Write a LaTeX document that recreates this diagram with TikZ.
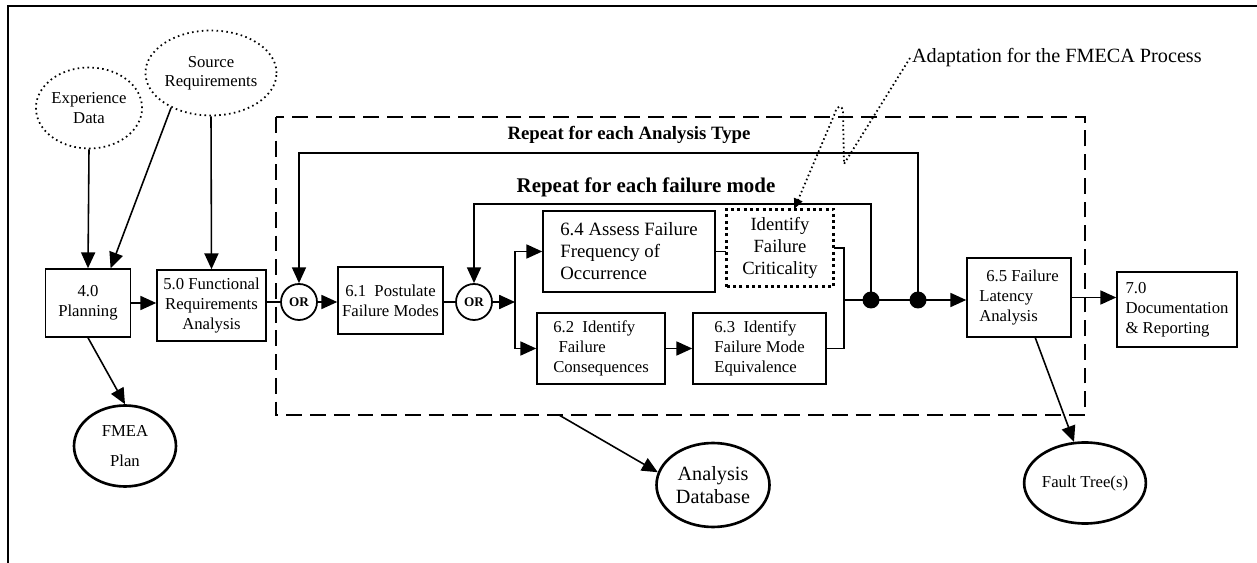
\documentclass[tikz,border=0pt]{standalone}
\usepackage{fontspec}
\setmainfont{Liberation Serif}
\usetikzlibrary{arrows.meta,shapes.geometric}
\tikzset{box/.style={rectangle,draw=black,line width=0.9pt,inner sep=2pt,font=\fontsize{9.5}{11.5}\selectfont},
  source/.style={ellipse,draw=black,line width=1pt,dash pattern=on 0.9pt off 1.9pt,inner sep=0pt,font=\fontsize{9.5}{11}\selectfont},
  product/.style={ellipse,draw=black,line width=1.5pt,inner sep=0pt,font=\fontsize{9.5}{11}\selectfont},
  orgate/.style={circle,draw=black,line width=1pt,minimum size=0.72cm,inner sep=0pt,font=\fontsize{7.5}{8}\selectfont\bfseries},
  joint/.style={circle,fill=black,minimum size=0.34cm,inner sep=0pt},
  arr/.style={-{Triangle[length=9pt,width=8pt]},line width=0.9pt},
  ln/.style={line width=0.9pt},
  loopbox/.style={line width=1.5pt,dash pattern=on 9pt off 4.5pt},
  leader/.style={-{Triangle[length=6pt,width=5pt]},line width=1pt,dash pattern=on 0.9pt off 1.6pt}}
\begin{document}
\begin{tikzpicture}[x=0.02cm,y=-0.02cm]
\useasboundingbox (0,0) rectangle (1257,563);
\draw[line width=1.2pt] (8,563) -- (8,6) -- (1257,6);
% inputs and planning
\node (expd) at (89,108) [source,minimum width=2.04cm,minimum height=1.62cm,align=center] {Experience\\Data};
\node (srcreq) at (211,73) [source,minimum width=2.24cm,minimum height=1.7cm,align=center] {Source\\Requirements};
\node (plan) at (88,303) [box,minimum width=1.7cm,minimum height=1.36cm,align=center] {4.0\\Planning};
\node (fra) at (211.5,305.5) [box,minimum width=2.18cm,minimum height=1.42cm,align=center] {5.0 Functional\\Requirements\\Analysis};
\node (fmea) at (125,446) [product,minimum width=2.04cm,minimum height=1.62cm,align=center] {FMEA\\[6pt]Plan};
% repeated analysis
\draw[loopbox] (276,117) rectangle (1085,415);
\coordinate (dbout) at (559,415);
\node (rpat) at (629,135) [font=\fontsize{10.7}{12}\selectfont\bfseries] {Repeat for each Analysis Type};
\node (rpfm) at (646,187) [font=\fontsize{11.9}{13}\selectfont\bfseries] {Repeat for each failure mode};
\node (or1) at (299,302) [orgate] {OR};
\node (fm) at (390.5,300.5) [box,minimum width=2.1cm,minimum height=1.34cm,align=center] {6.1\ \ Postulate\\Failure Modes};
\node (or2) at (474,302) [orgate] {OR};
\coordinate (split) at (515,302);
\node (freq) at (629,251.5) [box,minimum width=3.44cm,minimum height=1.62cm,align=left,font=\fontsize{10.7}{12.5}\selectfont] {6.4 Assess Failure\\Frequency of\\Occurrence};
\node (crit) at (780,248) [box,draw=none,minimum width=2.12cm,minimum height=1.52cm,align=center,font=\fontsize{10.6}{12.5}\selectfont] {Identify\\Failure\\Criticality};
\draw[line width=1.7pt,dash pattern=on 1.7pt off 1.9pt] (crit.south west) rectangle (crit.north east);
\node (cons) at (601,348.5) [box,minimum width=2.56cm,minimum height=1.42cm,align=left] {6.2\ \ Identify\\\hspace{3pt}Failure\\Consequences};
\node (equiv) at (759.5,348.5) [box,minimum width=2.66cm,minimum height=1.42cm,align=left] {6.3\ \ Identify\\Failure Mode\\Equivalence};
\coordinate (merge) at (844,300);
\node (d1) at (871,300) [joint] {};
\node (d2) at (918,300) [joint] {};
\node (lat) at (1019,297.5) [box,minimum width=2.08cm,minimum height=1.58cm,align=left] {\hspace{4pt}6.5 Failure\\Latency\\Analysis};
% outputs
\node (doc) at (1177,309.5) [box,minimum width=2.4cm,minimum height=1.5cm,align=left] {7.0\\Documentation\\\& Reporting};
\node (fault) at (1085,483) [product,minimum width=2.28cm,minimum height=1.62cm] {Fault Tree(s)};
\node (db) at (713,485) [product,minimum width=2.26cm,minimum height=1.68cm,align=center,font=\fontsize{11.5}{13}\selectfont] {Analysis\\Database};
\node (adapt) at (910,58) [anchor=west,inner sep=1pt,font=\fontsize{11.5}{13}\selectfont] {Adaptation for the FMECA Process};
\draw[arr] (expd.south) -- (plan.north);
\draw[arr] (srcreq.221) -- (plan.57);
\draw[arr] (srcreq.south) -- (fra.north);
\draw[arr] (plan.east) -- (plan.east -| fra.west);
\draw[arr] (plan.south) -- (fmea.north);
\draw[ln] (fra.east |- or1) -- (or1.west);
\draw[arr] (or1.east) -- (or1.east -| fm.west);
\draw[ln] (fm.east |- or2) -- (or2.west);
\draw[arr] (or2.east) -- (split);
\draw[arr] (split) |- (freq.west);
\draw[arr] (split) |- (cons.west);
\draw[ln] (freq.east) -- (freq.east -| crit.west);
\draw[arr] (cons.east) -- (equiv.west);
\draw[ln] (crit.east) -| (merge) (equiv.east) -| (merge);
\draw[arr] (merge) -- (merge -| lat.west);
\draw[arr] (d1.center) -- ++(0,-96) -| (or2);
\draw[arr] (d2.center) -- ++(0,-147) -| (or1);
\draw[arr] (lat.east) -- (lat.east -| doc.west);
\draw[arr] (lat.292) -- (fault.105);
\draw[arr] (dbout) -- (db.167);
\draw[leader] (adapt.west) -- (844,164) -- (843,112) .. controls (842,104) and (837,105) .. (835,113) -- (crit.70);
\end{tikzpicture}
\end{document}
